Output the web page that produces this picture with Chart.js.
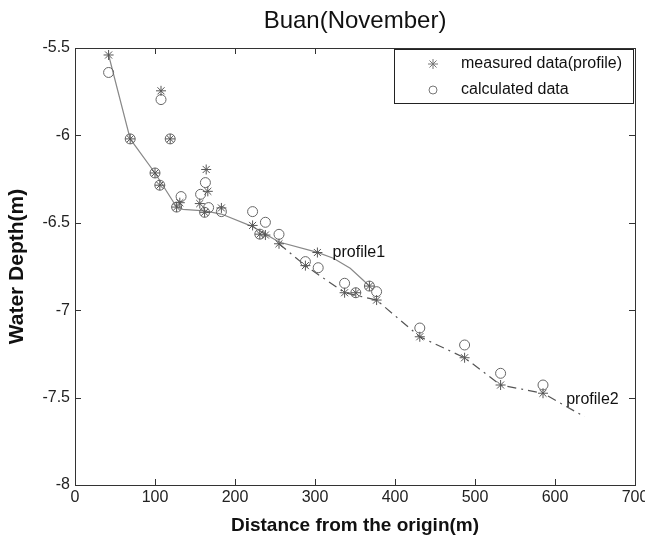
<!DOCTYPE html>
<html>
<head>
<meta charset="utf-8">
<script src="https://cdn.jsdelivr.net/npm/chart.js@4.4.0/dist/chart.umd.min.js"></script>
<style>
    html, body { margin: 0; padding: 0; background: #fff; }
</style>
</head>
<body>
<canvas id="chart" width="645" height="543"></canvas>
<script>
const xTicks = [0, 100, 200, 300, 400, 500, 600, 700];
const yTicks = [-8, -7.5, -7, -6.5, -6, -5.5];

// measured data (stars)
const measuredX = [42, 107.5, 69, 119, 100, 106, 127, 131, 164, 166, 156, 162, 183, 222, 231, 238, 255, 303, 288, 337, 351, 368, 377, 431, 487, 532, 585];
const measuredY = [-5.54, -5.745, -6.02, -6.02, -6.215, -6.285, -6.41, -6.385, -6.195, -6.32, -6.39, -6.44, -6.415, -6.515, -6.565, -6.57, -6.62, -6.67, -6.745, -6.9, -6.9, -6.862, -6.942, -7.152, -7.272, -7.428, -7.475];

// calculated data (circles)
const calcX = [42, 107.5, 69, 119, 100, 106, 132.6, 127, 163, 157, 167, 162, 183, 222, 238, 231, 255, 288, 304, 337, 351, 368, 377, 431, 487, 532, 585];
const calcY = [-5.64, -5.795, -6.02, -6.02, -6.215, -6.285, -6.35, -6.41, -6.27, -6.337, -6.413, -6.44, -6.436, -6.436, -6.497, -6.565, -6.566, -6.722, -6.757, -6.846, -6.9, -6.862, -6.894, -7.102, -7.199, -7.361, -7.428];

// profile lines
const profile1X = [42, 69, 100, 127, 135, 162, 183, 222, 255, 303, 323, 344, 360, 368];
const profile1Y = [-5.54, -6.02, -6.215, -6.41, -6.423, -6.432, -6.45, -6.522, -6.61, -6.669, -6.703, -6.76, -6.827, -6.862];
const profile2X = [255, 288, 337, 377, 431, 487, 532, 585, 637];
const profile2Y = [-6.62, -6.745, -6.9, -6.942, -7.152, -7.272, -7.428, -7.475, -7.61];

const labels = [
    { text: 'profile1', x: 322, y: -6.673 },
    { text: 'profile2', x: 614, y: -7.514 }
];

function toPoints(xs, ys) {
    return xs.map((x, i) => ({ x: x, y: ys[i] }));
}

const fontFamily = '"Liberation Sans", Arial, sans-serif';
const tickFont = { family: fontFamily, size: 16 };

const framePlugin = {
    id: 'frame',
    afterDraw(chart) {
        const ctx = chart.ctx;
        const a = chart.chartArea;
        const xs = chart.scales.x, ys = chart.scales.y;
        ctx.save();
        ctx.strokeStyle = '#333';
        ctx.lineWidth = 1;
        ctx.strokeRect(a.left + 0.5, a.top + 0.5, a.right - a.left, a.bottom - a.top);
        ctx.beginPath();
        xTicks.forEach(v => {
            const px = Math.round(xs.getPixelForValue(v)) + 0.5;
            ctx.moveTo(px, a.bottom); ctx.lineTo(px, a.bottom - 6);
            ctx.moveTo(px, a.top); ctx.lineTo(px, a.top + 6);
        });
        yTicks.forEach(v => {
            const py = Math.round(ys.getPixelForValue(v)) + 0.5;
            ctx.moveTo(a.left, py); ctx.lineTo(a.left + 6, py);
            ctx.moveTo(a.right, py); ctx.lineTo(a.right - 6, py);
        });
        ctx.stroke();

        // title
        ctx.fillStyle = '#111';
        ctx.font = '24px ' + fontFamily;
        ctx.textAlign = 'center';
        ctx.textBaseline = 'middle';
        ctx.fillText('Buan(November)', (a.left + a.right) / 2, 21);

        // profile labels
        ctx.font = '16px ' + fontFamily;
        ctx.textAlign = 'left';
        labels.forEach(l => {
            ctx.fillText(l.text, xs.getPixelForValue(l.x), ys.getPixelForValue(l.y));
        });

        // legend
        const bw = 239, bh = 54;
        const bx = a.right - 2 - bw, by = a.top + 1;
        ctx.fillStyle = '#fff';
        ctx.fillRect(bx, by, bw, bh);
        ctx.strokeStyle = '#222';
        ctx.strokeRect(bx + 0.5, by + 0.5, bw, bh);
        ctx.fillStyle = '#111';
        ctx.font = '16px ' + fontFamily;
        ctx.fillText('measured data(profile)', bx + 67, by + 15);
        ctx.fillText('calculated data', bx + 67, by + 41);
        ctx.fillStyle = 'rgba(0,0,0,0)';
        ctx.strokeStyle = '#777';
        Chart.helpers.drawPoint(ctx, { pointStyle: 'star', radius: 5, borderWidth: 1 }, bx + 39, by + 15);
        Chart.helpers.drawPoint(ctx, { pointStyle: 'circle', radius: 4, borderWidth: 1 }, bx + 39, by + 41);
        ctx.restore();
    }
};

new Chart(document.getElementById('chart'), {
    type: 'scatter',
    data: {
        datasets: [
            {
                label: 'measured data(profile)',
                data: toPoints(measuredX, measuredY),
                pointStyle: 'star',
                pointRadius: 5,
                borderColor: '#555',
                borderWidth: 1,
                backgroundColor: 'rgba(0,0,0,0)'
            },
            {
                label: 'calculated data',
                data: toPoints(calcX, calcY),
                pointStyle: 'circle',
                pointRadius: 5,
                borderColor: '#666',
                borderWidth: 1,
                backgroundColor: 'rgba(0,0,0,0)'
            },
            {
                label: 'profile1',
                data: toPoints(profile1X, profile1Y),
                showLine: true,
                pointRadius: 0,
                borderColor: '#888',
                borderWidth: 1.2
            },
            {
                label: 'profile2',
                data: toPoints(profile2X, profile2Y),
                showLine: true,
                pointRadius: 0,
                borderColor: '#555',
                borderWidth: 1.2,
                borderDash: [9, 5, 2, 5]
            }
        ]
    },
    options: {
        responsive: false,
        animation: false,
        layout: { padding: { top: 48, right: 10, left: 0, bottom: 0 } },
        plugins: {
            legend: { display: false },
            tooltip: { enabled: false }
        },
        scales: {
            x: {
                type: 'linear',
                min: 0,
                max: 700,
                afterFit: s => { s.height = 58; s.paddingLeft = 0; s.paddingRight = 0; },
                afterBuildTicks: s => { s.ticks = xTicks.map(v => ({ value: v })); },
                ticks: { font: tickFont, color: '#222', padding: 3, callback: v => String(v), maxRotation: 0 },
                grid: { display: false, drawTicks: false },
                border: { display: false },
                title: {
                    display: true,
                    text: 'Distance from the origin(m)',
                    font: { family: fontFamily, size: 19, weight: 'bold' },
                    color: '#111',
                    padding: { top: 0, bottom: 6 }
                }
            },
            y: {
                type: 'linear',
                min: -8,
                max: -5.5,
                afterFit: s => { s.width = 75; s.paddingTop = 0; s.paddingBottom = 0; },
                afterBuildTicks: s => { s.ticks = yTicks.map(v => ({ value: v })); },
                ticks: { font: tickFont, color: '#222', padding: 5, callback: v => String(v) },
                grid: { display: false, drawTicks: false },
                border: { display: false },
                title: {
                    display: true,
                    text: 'Water Depth(m)',
                    font: { family: fontFamily, size: 21, weight: 'bold' },
                    color: '#111',
                    padding: { top: 5, bottom: 0 }
                }
            }
        }
    },
    plugins: [framePlugin]
});
</script>
</body>
</html>
